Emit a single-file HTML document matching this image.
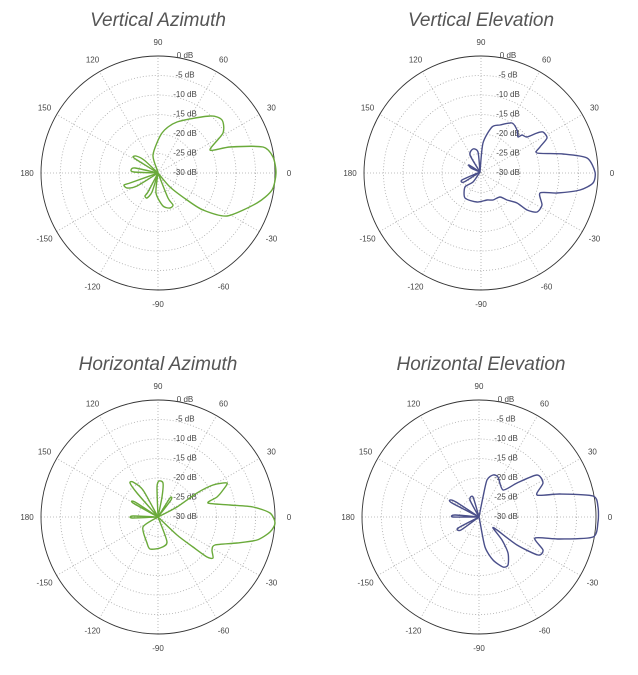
<!DOCTYPE html>
<html><head><meta charset="utf-8"><style>
body{margin:0;background:#fff;}
svg text{font-family:"Liberation Sans",sans-serif;}
</style></head><body>
<svg id="s" width="638" height="670" viewBox="0 0 638 670" xmlns="http://www.w3.org/2000/svg">
<text x="158" y="26" font-size="19" font-style="italic" fill="#555" text-anchor="middle">Vertical Azimuth</text>
<text x="481" y="26" font-size="19" font-style="italic" fill="#555" text-anchor="middle">Vertical Elevation</text>
<text x="158" y="370" font-size="19" font-style="italic" fill="#555" text-anchor="middle">Horizontal Azimuth</text>
<text x="481" y="370" font-size="19" font-style="italic" fill="#555" text-anchor="middle">Horizontal Elevation</text>
<g id="g"></g>
</svg>
<script>
var NS="http://www.w3.org/2000/svg",g=document.getElementById('g');
function el(t,a,txt){var e=document.createElementNS(NS,t);for(var k in a)e.setAttribute(k,a[k]);if(txt!==undefined)e.textContent=txt;g.appendChild(e);return e;}
function grid(cx,cy){var R=117;
for(var k=1;k<6;k++)el('circle',{cx:cx,cy:cy,r:R*k/6,fill:'none',stroke:'#aaa','stroke-width':0.8,'stroke-dasharray':'1,2'});
for(var a=0;a<180;a+=30){var t=a*Math.PI/180;el('line',{x1:cx-R*Math.cos(t),y1:cy+R*Math.sin(t),x2:cx+R*Math.cos(t),y2:cy-R*Math.sin(t),stroke:'#aaa','stroke-width':0.8,'stroke-dasharray':'1,2'});}
el('circle',{cx:cx,cy:cy,r:R,fill:'none',stroke:'#333','stroke-width':0.9});
var labs=[[0,'0'],[30,'30'],[60,'60'],[90,'90'],[120,'120'],[150,'150'],[180,'180'],[-150,'-150'],[-120,'-120'],[-90,'-90'],[-60,'-60'],[-30,'-30']];
labs.forEach(function(l){var t=l[0]*Math.PI/180,rr=R+14;el('text',{x:cx+rr*Math.cos(t),y:cy-rr*Math.sin(t)+3,'font-size':8,fill:'#444','text-anchor':'middle'},l[1]);});
for(var k=0;k<7;k++){el('text',{x:cx+27,y:cy-R+R*k/6+2,'font-size':8,fill:'#444','text-anchor':'middle'},k==0?'0 dB':('-'+5*k+' dB'));}
}
function curve(pts,col){var d='M'+pts[0][0]+','+pts[0][1],f=8;
for(var i=0;i<pts.length-1;i++){var p0=pts[Math.max(i-1,0)],p1=pts[i],p2=pts[i+1],p3=pts[Math.min(i+2,pts.length-1)];
d+=' C'+(p1[0]+(p2[0]-p0[0])/f)+','+(p1[1]+(p2[1]-p0[1])/f)+' '+(p2[0]-(p3[0]-p1[0])/f)+','+(p2[1]-(p3[1]-p1[1])/f)+' '+p2[0]+','+p2[1];}
el('path',{d:d,fill:'none',stroke:col,'stroke-width':1.4,'stroke-linejoin':'round'});}
grid(158,173);grid(481,173);grid(158,517);grid(479,517);
var G='#6aaa3a',B='#4a4f8a';
curve([[158,172],[153,155],[162,133],[177,122],[210,116],[222,120],[223,133],[210,150],[230,147],[263,147],[273,157],[276,173],[272,190],[257,203],[227,216],[203,210],[187,200],[170,187],[158,173]],G);
curve([[158,173],[168,198],[173,205],[170,208],[163,206],[156,193],[158,173]],G);
curve([[158,173],[148,192],[145,196],[147,198],[152,192],[158,173]],G);
curve([[158,173],[130,183],[124,185],[127,188],[137,186],[158,173]],G);
curve([[158,173],[134,172],[131,170],[135,168],[158,173]],G);
curve([[158,173],[137,160],[133,157],[136,156],[144,160],[158,173]],G);
curve([[480,172],[483,143],[492,127],[500,125],[512,123],[517,130],[518,137],[522,135],[527,137],[537,133],[543,132],[547,138],[540,147],[537,153],[563,154],[587,158],[595,172],[593,183],[580,190],[557,193],[540,193],[542,205],[537,212],[527,210],[517,203],[507,200],[500,197],[493,200],[487,200],[477,202],[465,198],[465,187],[473,182],[480,172]],B);
curve([[480,172],[470,155],[473,149],[478,152],[480,172]],B);
curve([[480,172],[462,180],[464,182],[480,172]],B);
curve([[480,172],[469,165],[471,168],[480,172]],B);
curve([[158,517],[177,507],[197,493],[213,485],[227,483],[223,490],[217,497],[208,503],[230,505],[253,507],[270,513],[275,523],[270,532],[257,540],[237,543],[215,545],[212,550],[213,558],[207,557],[193,547],[177,535],[158,517]],G);
curve([[158,517],[143,527],[147,543],[150,549],[160,548],[167,542],[158,517]],G);
curve([[158,517],[137,493],[130,483],[133,482],[143,490],[158,517]],G);
curve([[158,517],[157,487],[159,481],[163,483],[162,497],[158,517]],G);
curve([[158,517],[133,503],[135,502],[158,517]],G);
curve([[158,517],[132,518],[133,516],[158,517]],G);
curve([[158,517],[170,498],[171,500],[158,517]],G);
curve([[479,517],[483,497],[487,480],[493,475],[498,477],[503,490],[517,483],[537,475],[543,483],[537,495],[560,494],[593,496],[598,507],[598,522],[593,537],[560,539],[535,538],[543,550],[538,555],[517,545],[497,530],[493,528],[502,540],[508,553],[508,565],[503,567],[493,560],[485,547],[480,522],[479,517]],B);
curve([[479,517],[452,503],[450,500],[456,502],[479,517]],B);
curve([[479,517],[470,500],[473,497],[479,517]],B);
curve([[479,517],[455,515],[453,517],[479,517]],B);
curve([[479,517],[458,528],[461,530],[479,517]],B);
</script>
</body></html>
